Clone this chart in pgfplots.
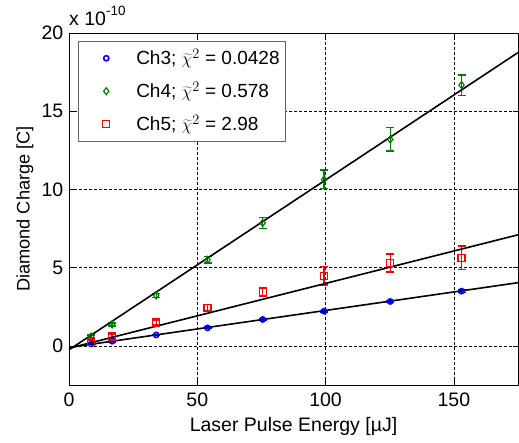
\documentclass[border=0pt]{standalone}
\usepackage{pgfplots}
\pgfplotsset{compat=1.18}
\usepackage{pgfplotstable}
\usepackage{fontspec}
\setmainfont{Liberation Sans}
\definecolor{mgreen}{RGB}{0,128,0}
\pgfplotstableread{
x y e
8.8 0.13 0.05
16.8 0.30 0.05
34 0.70 0.05
54 1.15 0.05
75.5 1.69 0.05
99.4 2.22 0.06
125.2 2.84 0.07
153 3.50 0.08
}\chthree
\pgfplotstableread{
x y e
8.6 0.60 0.10
16.8 1.37 0.10
34 3.22 0.12
54 5.50 0.20
75.5 7.86 0.35
99.4 10.64 0.60
125.2 13.20 0.75
153 16.67 0.65
}\chfour
\pgfplotstableread{
x y e
8.6 0.25 0.12
16.8 0.60 0.15
34 1.49 0.12
54 2.43 0.20
75.5 3.44 0.30
99.4 4.49 0.60
125.2 5.30 0.58
153 5.64 0.75
}\chfive
\newcommand{\bigf}{\fontsize{19.5}{22}\selectfont}
\begin{document}
\bigf
\begin{tikzpicture}
\begin{axis}[
  name=ax,
  scale only axis, width=449pt, height=352pt,
  xmin=0, xmax=175, ymin=-2.5, ymax=20,
  xtick={0,50,100,150}, ytick={0,5,10,15,20},
  grid=major,
  grid style={black, line width=0.5pt, dash pattern=on 3pt off 2pt},
  tick align=inside, major tick length=5pt,
  axis line style={black, line width=0.8pt},
  tick style={black, line width=0.6pt},
  /pgf/number format/assume math mode=true,
  tick label style={font=\bigf},
  yticklabel style={xshift=1pt},
  xticklabel style={yshift=-1pt},
  xlabel={Laser Pulse Energy [µJ]},
  ylabel={Diamond Charge [C]},
  xlabel style={font=\bigf, yshift=2pt},
  ylabel style={font=\fontsize{18.2}{21}\selectfont, yshift=-5pt},
  legend style={at={(rel axis cs:0.4833,0.977)}, anchor=north east,
    draw=gray!80!black, line width=0.8pt, font=\fontsize{19}{21}\selectfont,
    row sep=10.5pt, inner xsep=4pt, inner ysep=5.5pt,
    nodes={inner sep=2pt}},
  legend cell align=left,
  legend image code/.code={\path[draw=none,fill=none] (0pt,0pt) -- (52pt,0pt);
    \draw[#1] plot coordinates {(24pt,0pt)};},
  every axis plot/.append style={line width=1pt},
]
\addplot[only marks, blue, mark=o, mark size=2.6pt, mark options={line width=1.6pt},
  error bars/.cd, y dir=both, y explicit, error bar style={blue, line width=1.3pt},
  error mark options={rotate=90, mark size=4pt, line width=1.3pt, blue}]
  table[x=x, y=y, y error=e] {\chthree};
\addlegendentry{Ch3; $\widetilde{\chi}^2$ = 0.0428}
\addplot[only marks, mgreen, mark=diamond, mark size=3.5pt, mark options={line width=1.2pt},
  error bars/.cd, y dir=both, y explicit, error bar style={mgreen, line width=1.3pt},
  error mark options={rotate=90, mark size=4pt, line width=1.3pt, mgreen}]
  table[x=x, y=y, y error=e] {\chfour};
\addlegendentry{Ch4; $\widetilde{\chi}^2$ = 0.578}
\addplot[only marks, red, mark=square, mark size=3.5pt, mark options={line width=1.2pt},
  error bars/.cd, y dir=both, y explicit, error bar style={red, line width=1.3pt},
  error mark options={rotate=90, mark size=4pt, line width=1.3pt, red}]
  table[x=x, y=y, y error=e] {\chfive};
\addlegendentry{Ch5; $\widetilde{\chi}^2$ = 2.98}
\addplot[black, line width=1.6pt, forget plot] coordinates {(0,-0.10) (175,4.04)};
\addplot[black, line width=1.6pt, forget plot] coordinates {(0,-0.15) (175,7.10)};
\addplot[black, line width=1.6pt, forget plot] coordinates {(0,-0.25) (175,18.75)};
\end{axis}
\node[anchor=base west, inner sep=0pt] at ([yshift=7pt]ax.north west) {x 10\raisebox{10pt}{\fontsize{13.5}{15}\selectfont -10}};
\path ([xshift=-69pt,yshift=-53pt]ax.south west) rectangle ([xshift=1pt,yshift=33pt]ax.north east);
\end{tikzpicture}
\end{document}
